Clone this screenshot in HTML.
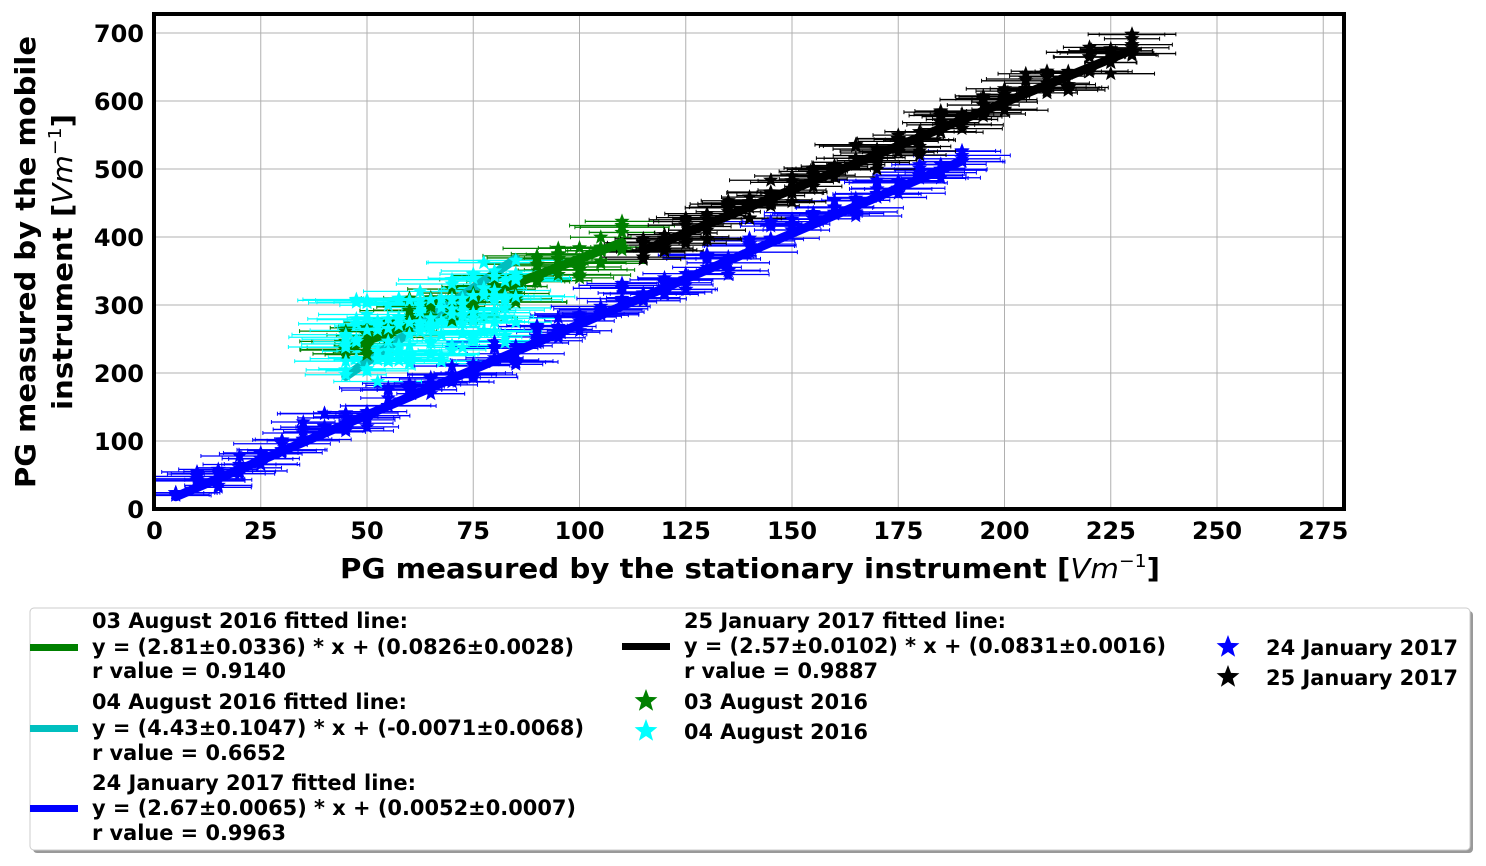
<!DOCTYPE html>
<html><head><meta charset="utf-8"><style>
html,body{margin:0;padding:0;background:#fff;}
svg{display:block;font-family:"DejaVu Sans","Liberation Sans",sans-serif;font-weight:bold;}
</style></head><body>
<svg id="s" width="1486" height="866" xmlns="http://www.w3.org/2000/svg">
<defs><clipPath id="cp"><rect x="154" y="14" width="1190" height="495"/></clipPath></defs>
<g id="grid" stroke="#b0b0b0" stroke-width="1"></g>
<g id="data" clip-path="url(#cp)"></g>
<rect x="154" y="14" width="1190" height="495" fill="none" stroke="#000" stroke-width="4"/>
<g id="ticks" font-size="24" fill="#000"></g>
<text x="750" y="578" font-size="28" text-anchor="middle" textLength="820" lengthAdjust="spacingAndGlyphs">PG measured by the stationary instrument [<tspan font-style="italic" font-weight="normal">Vm</tspan><tspan font-size="18" dy="-11" font-weight="normal">−1</tspan><tspan dy="11">]</tspan></text>
<text transform="translate(35,262) rotate(-90)" font-size="28" text-anchor="middle" textLength="452" lengthAdjust="spacingAndGlyphs">PG measured by the mobile</text>
<text transform="translate(72,262) rotate(-90)" font-size="28" text-anchor="middle" textLength="296" lengthAdjust="spacingAndGlyphs">instrument [<tspan font-style="italic" font-weight="normal">Vm</tspan><tspan font-size="18" dy="-11" font-weight="normal">−1</tspan><tspan dy="11">]</tspan></text>
<rect x="33" y="611" width="1440" height="242" rx="4" fill="#999"/>
<rect x="30" y="608" width="1440" height="242" rx="4" fill="#fff" stroke="#ccc" stroke-width="1"/>
<g font-size="21" fill="#000">
<rect x="30" y="644" width="48" height="7" fill="#008000"/>
<text x="92" y="628" textLength="316" lengthAdjust="spacingAndGlyphs">03 August 2016 fitted line:</text>
<text x="92" y="654" textLength="482" lengthAdjust="spacingAndGlyphs">y = (2.81±0.0336) * x + (0.0826±0.0028)</text>
<text x="92" y="678" textLength="194" lengthAdjust="spacingAndGlyphs">r value = 0.9140</text>
<rect x="30" y="725" width="48" height="7" fill="#00bfbf"/>
<text x="92" y="709" textLength="315" lengthAdjust="spacingAndGlyphs">04 August 2016 fitted line:</text>
<text x="92" y="735" textLength="492" lengthAdjust="spacingAndGlyphs">y = (4.43±0.1047) * x + (-0.0071±0.0068)</text>
<text x="92" y="760" textLength="194" lengthAdjust="spacingAndGlyphs">r value = 0.6652</text>
<rect x="30" y="805" width="48" height="7" fill="#0000ff"/>
<text x="92" y="790" textLength="324" lengthAdjust="spacingAndGlyphs">24 January 2017 fitted line:</text>
<text x="92" y="815" textLength="484" lengthAdjust="spacingAndGlyphs">y = (2.67±0.0065) * x + (0.0052±0.0007)</text>
<text x="92" y="840" textLength="194" lengthAdjust="spacingAndGlyphs">r value = 0.9963</text>
<rect x="622" y="643" width="48" height="7" fill="#000"/>
<text x="684" y="628" textLength="322" lengthAdjust="spacingAndGlyphs">25 January 2017 fitted line:</text>
<text x="684" y="653" textLength="482" lengthAdjust="spacingAndGlyphs">y = (2.57±0.0102) * x + (0.0831±0.0016)</text>
<text x="684" y="678" textLength="194" lengthAdjust="spacingAndGlyphs">r value = 0.9887</text>
<text x="684" y="709" textLength="184" lengthAdjust="spacingAndGlyphs">03 August 2016</text>
<text x="684" y="739" textLength="184" lengthAdjust="spacingAndGlyphs">04 August 2016</text>
<text x="1266" y="655" textLength="192" lengthAdjust="spacingAndGlyphs">24 January 2017</text>
<text x="1266" y="685" textLength="192" lengthAdjust="spacingAndGlyphs">25 January 2017</text>
</g>
<g id="legstars"></g>
</svg>
<script>
var NS="http://www.w3.org/2000/svg";
function X(v){return 154.5+4.25*v;}
function Y(v){return 509-0.68*v;}
function el(p,t,a){var e=document.createElementNS(NS,t);for(var k in a)e.setAttribute(k,a[k]);p.appendChild(e);return e;}
var grid=document.getElementById('grid'),ticks=document.getElementById('ticks');
for(var v=0;v<=275;v+=25){var x=X(v);if(v>0)el(grid,'line',{x1:x,x2:x,y1:14,y2:509});
 var t=el(ticks,'text',{x:x,y:539,'text-anchor':'middle'});t.textContent=v;}
for(var v=0;v<=700;v+=100){var y=Y(v);if(v>0)el(grid,'line',{x1:154,x2:1344,y1:y,y2:y});
 var t=el(ticks,'text',{x:144,y:y+9,'text-anchor':'end'});t.textContent=v;}
function star(cx,cy,r){var p=[];for(var i=0;i<10;i++){var rr=i%2?r*0.42:r;var a=-Math.PI/2+i*Math.PI/5;p.push((cx+rr*Math.cos(a)).toFixed(1)+','+(cy+rr*Math.sin(a)).toFixed(1));}return p.join(' ');}
var seed=7;function rnd(){seed=(seed*16807)%2147483647;return seed/2147483647;}
var data=document.getElementById('data');
var gE=el(data,'g',{}),gL=el(data,'g',{}),gS=el(data,'g',{});
function pt(col,xv,yv,ex){if(yv<18)yv=18+rnd()*8;var px=X(xv),py=Y(yv),e=ex*(0.7+rnd()*0.6)*4.25;
  el(gE,'line',{x1:px-e,x2:px+e,y1:py,y2:py,stroke:col,'stroke-width':1.3});
  el(gE,'line',{x1:px-e,x2:px-e,y1:py-2,y2:py+2,stroke:col,'stroke-width':1});
  el(gE,'line',{x1:px+e,x2:px+e,y1:py-2,y2:py+2,stroke:col,'stroke-width':1});
  el(gS,'polygon',{points:star(px,py,8),fill:col});}
function cols(col,x0,x1,step,a,b,off,spread,per,ex){
 for(var xv=x0;xv<=x1;xv+=step){var c=a*xv+b+(rnd()-0.5)*2*off;
  for(var k=0;k<per;k++)pt(col,xv,c+(rnd()-0.5)*2*spread,ex);}}
cols('#0000ff',5,190,5,2.67,10,15,15,6,9);
cols('#008000',45,110,5,2.35,135,15,25,7,10);
cols('#00ffff',45,85,2.5,1.8,160,15,55,8,11);
cols('#000',115,230,5,2.57,85,10,20,8,8);
function fl(col,a,b,c,d){el(gL,'line',{x1:X(a),y1:Y(b),x2:X(c),y2:Y(d),stroke:col,'stroke-width':9,'stroke-linecap':'round'});}
fl('#0000ff',5,18,190,512);
fl('#008000',47,240,110,392);
fl('#00bfbf',45,195,85,368);
fl('#000',115,380,230,675);
var ls=document.getElementById('legstars');
[['#008000',646,701],['#00ffff',646,731],['#0000ff',1228,647],['#000',1228,677]].forEach(function(s){el(ls,'polygon',{points:star(s[1],s[2],12),fill:s[0]});});
</script>
</body></html>
